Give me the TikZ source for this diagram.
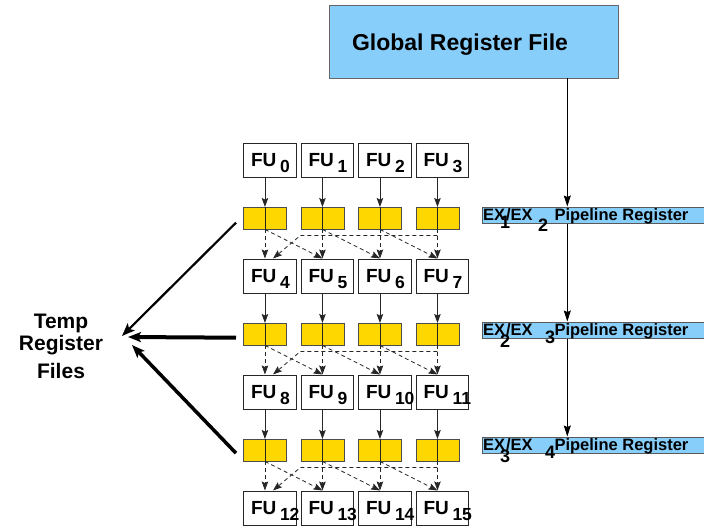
\documentclass[tikz,border=0pt]{standalone}
\usepackage{fontspec}
\setmainfont{Liberation Sans}
\usetikzlibrary{arrows.meta,calc}
\definecolor{gold}{HTML}{FFD700}
\definecolor{skyb}{HTML}{87CEFA}
\tikzset{
  fubox/.style={draw=black!85, fill=white, line width=0.9pt, minimum width=52.5pt, minimum height=34pt, anchor=north west, inner sep=0pt},
  regbox/.style={draw=black!70, fill=gold, line width=0.9pt, minimum width=43pt, minimum height=21.5pt, anchor=north west, inner sep=0pt},
  pipebox/.style={draw=black!65, fill=skyb, line width=0.8pt, minimum width=226pt, minimum height=16.5pt, anchor=north west, inner sep=0pt},
  gbox/.style={draw=black!60, fill=skyb, line width=0.8pt, minimum width=288.5pt, minimum height=72.5pt, anchor=north west, inner sep=0pt},
  lbl/.style={anchor=base west, inner sep=0pt, outer sep=0pt},
  fulbl/.style={lbl, font=\fontsize{19}{19}\selectfont\bfseries},
  fusub/.style={lbl, font=\fontsize{17.5}{17.5}\selectfont\bfseries},
  exlbl/.style={lbl, font=\fontsize{16.5}{16.5}\selectfont\bfseries},
  exsub/.style={lbl, font=\fontsize{18}{18}\selectfont\bfseries},
  solidarr/.style={draw=black!85, line width=0.9pt, -{Stealth[length=9pt,width=6.5pt,inset=1.5pt]}},
  dasharr/.style={draw=black!85, line width=0.8pt, dash pattern=on 4pt off 3pt, -{Stealth[length=9pt,width=6.5pt,inset=1.5pt]}},
  vline/.style={draw=black, line width=0.9pt, -{Stealth[length=11pt,width=7pt,inset=1.5pt]}},
  bigarr/.style={draw=black, -{Stealth[length=13pt,width=10pt,inset=3pt]}}
}
\begin{document}
\begin{tikzpicture}[x=1pt,y=-1pt]
\useasboundingbox (0,0) rectangle (704,525);

% Global register file
\node[gbox] (grf) at (329.3,5) {};
\node[lbl, font=\fontsize{23}{23}\selectfont\bfseries] (grft) at (352,50) {Global Register File};

% pipeline registers
\foreach \r/\a/\b/\B/\da/\db/\xb in {1/1/2/220/8/11/538, 2/2/3/335/12/8/545, 3/3/4/450/12/8/545}{
  \node[pipebox] (ex\r) at (481.7,206.5+115*\r-115) {};
  \node[exlbl] (exa\r) at (483,\B) {EX};
  \node[exsub] (exs\r) at (500,\B+\da) {\a};
  \node[exlbl] (exb\r) at (506,\B) {/EX};
  \node[exsub] (ext\r) at (\xb,\B+\db) {\b};
  \node[exlbl] (exc\r) at (554.5,\B) {Pipeline Register};
}
\coordinate (vx) at (567.3,0);
\draw[vline] (grf.south -| vx) -- (ex1.north -| vx);
\draw[vline] (ex1.south -| vx) -- (ex2.north -| vx);
\draw[vline] (ex2.south -| vx) -- (ex3.north -| vx);

% FU boxes
\foreach \r in {0,1,2,3}{
  \foreach \c in {0,1,2,3}{
    \pgfmathtruncatemacro{\n}{4*\r+\c}
    \node[fubox] (fu\n) at (243+57.5*\c,142.5+116*\r) {};
    \node[fulbl] (fut\n) at ($(fu\n.north west)+(8,24)$) {FU};
    \node[fusub] (fus\n) at ($(fu\n.north west)+(37,29.5)$) {\n};
  }
}

% yellow temp registers and connections
\foreach \r in {0,1,2}{
  \foreach \c in {0,1,2,3}{
    \pgfmathtruncatemacro{\n}{4*\r+\c}
    \pgfmathtruncatemacro{\m}{4*\r+4+\c}
    \node[regbox] (y\r\c) at (243+57.5*\c,207+116*\r) {};
    \draw[draw=black!85, line width=0.9pt] (y\r\c.north) -- (y\r\c.south);
    \draw[solidarr] (fu\n.south -| y\r\c.north) -- (y\r\c.north);
    \draw[dasharr] (y\r\c.south) -- (fu\m.north -| y\r\c.south);
  }
  \foreach \c/\d in {0/1,1/2,2/3}{
    \pgfmathtruncatemacro{\m}{4*\r+4+\d}
    \draw[dasharr] (y\r\c.south) -- (fu\m.north -| y\r\d.south);
  }
  \pgfmathtruncatemacro{\j}{4*\r+4}
  \pgfmathtruncatemacro{\k}{4*\r+5}
  \path (y\r3.south) ++(0,6) coordinate (h\r);
  \draw[dasharr] (h\r) -- (h\r -| fu\k.north west) -- ($(fu\j.north west)+(30,0)$);
}

% Temp register files
\node[align=center, anchor=base, inner sep=0pt, font=\fontsize{21}{22}\selectfont\bfseries] (temp) at (61,378) {Temp\\Register\\[6pt]Files};
\coordinate (t1) at (122,336);
\coordinate (t2) at (128,337);
\coordinate (t3) at (132,345);
\draw[bigarr, line width=2.2pt] ($(y00.west)+(-7,4.5)$) -- (t1);
\draw[bigarr, line width=4pt] ($(y10.west)+(-7,3.5)$) -- (t2);
\draw[bigarr, line width=3.5pt] ($(y20.west)+(-7,3)$) -- (t3);
\end{tikzpicture}
\end{document}
